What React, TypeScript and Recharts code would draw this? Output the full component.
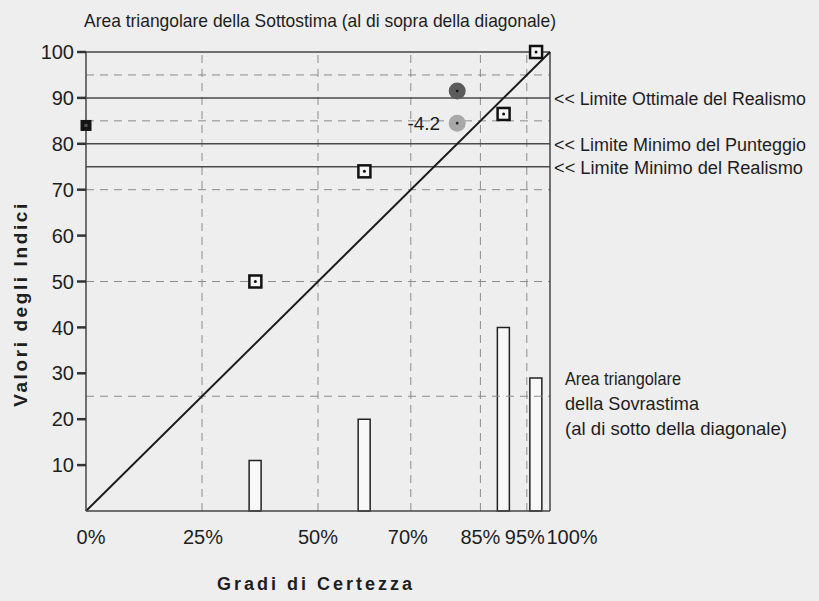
import React from 'react';
import { ComposedChart, XAxis, YAxis, Bar, Scatter, ReferenceLine } from 'recharts';

// degrees of certainty (x) and shares / accuracy per band
const xTicks = [0, 25, 50, 70, 85, 95, 100];
const xTickLabels = ['0%', '25%', '50%', '70%', '85%', '95%', '100%'];
const yTicks = [10, 20, 30, 40, 50, 60, 70, 80, 90, 100];
const bandCenters = [36.5, 60, 90, 97];
const answerShares = [11, 20, 40, 29];
const accuracy = [50, 74, 86.5, 100];

const dashedY = [95, 85, 70, 50, 25];
const dashedX = [25, 50, 70, 85, 95];
const limitValues = [90, 80, 75];
const limitLabels = [
  '<< Limite Ottimale del Realismo',
  '<< Limite Minimo del Punteggio',
  '<< Limite Minimo del Realismo',
];
const limitWidths = [252, 252, 249];

const meanCertainty = [80];
const realismIndex = [91.5];
const scoreIndex = [84.5];
const realismDelta = ['-4.2'];
const scoreOnAxis = [84];

const BG = '#eeeeee';
const FONT = '"Liberation Sans", Arial, sans-serif';
const INK = '#1e1e1e';

const barData = bandCenters.map((x, i) => ({ x, y: answerShares[i] }));
const accuracyData = bandCenters.map((x, i) => ({ x, y: accuracy[i] }));
const realismData = meanCertainty.map((x, i) => ({ x, y: realismIndex[i] }));
const scoreData = meanCertainty.map((x, i) => ({ x, y: scoreIndex[i], label: realismDelta[i] }));
const axisScoreData = scoreOnAxis.map(y => ({ x: 0, y }));

// small per-label nudges, the 100% label sits right of its tick
const xLabelShift: Record<number, number> = { 0: 5, 25: 1, 50: 0, 70: -3, 85: 0, 95: -2, 100: 22 };

const XTick = (p: any) => {
  const v = p.payload.value;
  return (
    <text x={p.x + (xLabelShift[v] || 0)} y={p.y} dy={25} textAnchor="middle" fill={INK} fontSize={20} fontFamily={FONT}>
      {xTickLabels[xTicks.indexOf(v)]}
    </text>
  );
};

const limitLabel = (i: number) => (props: any) => {
  const vb = props.viewBox || { x: 86, y: 0, width: 464, height: 0 };
  return (
    <text
      x={vb.x + vb.width + 4}
      y={vb.y + (vb.height || 0) / 2}
      dy={7}
      fill={INK}
      fontSize={18}
      fontFamily={FONT}
      textLength={limitWidths[i]}
      lengthAdjust="spacingAndGlyphs"
    >
      {limitLabels[i]}
    </text>
  );
};

const OpenSquare = (p: any) => (
  <g>
    <rect x={p.cx - 6} y={p.cy - 6} width={12} height={12} fill="#f4f4f4" stroke="#111" strokeWidth={2.5} />
    <circle cx={p.cx} cy={p.cy} r={1.5} fill="#111" />
  </g>
);

const DarkDot = (p: any) => (
  <g>
    <circle cx={p.cx} cy={p.cy} r={8.5} fill="#5c5c5c" />
    <circle cx={p.cx} cy={p.cy} r={1.3} fill="#111" />
  </g>
);

const LightDot = (p: any) => (
  <g>
    <circle cx={p.cx} cy={p.cy} r={8.5} fill="#a8a8a8" />
    <circle cx={p.cx} cy={p.cy} r={1.3} fill="#222" />
    <text x={p.cx - 17} y={p.cy} dy={7} textAnchor="end" fill={INK} fontSize={19} fontFamily={FONT}>
      {p.payload.label}
    </text>
  </g>
);

const FilledSquare = (p: any) => (
  <g>
    <rect x={p.cx - 5.5} y={p.cy - 5.5} width={11} height={11} fill="#141414" />
    <rect x={p.cx - 1.5} y={p.cy - 1.5} width={3} height={3} fill="#555" />
  </g>
);

export default function App() {
  return (
    <div style={{ position: 'relative', width: 819, height: 601, background: BG, overflow: 'hidden' }}>
      <style>{`body{margin:0;background:${BG}}`}</style>
      <ComposedChart width={819} height={601} data={barData} margin={{ top: 52, right: 269, bottom: 50, left: 0 }}>
        <XAxis
          type="number"
          dataKey="x"
          domain={[0, 100]}
          ticks={xTicks}
          interval={0}
          height={40}
          axisLine={{ stroke: '#444', strokeWidth: 1.5 }}
          tickLine={false}
          tick={XTick}
        />
        <YAxis
          type="number"
          domain={[0, 100]}
          ticks={yTicks}
          interval={0}
          width={86}
          axisLine={{ stroke: '#444', strokeWidth: 1.5 }}
          tickLine={{ stroke: '#333', strokeWidth: 2.5 }}
          tickSize={9}
          tickMargin={3}
          tick={{ fill: INK, fontSize: 20, fontFamily: FONT }}
        />
        {dashedY.map(v => (
          <ReferenceLine key={'hy' + v} y={v} stroke="#8c8c8c" strokeDasharray="8 6" />
        ))}
        {dashedX.map(v => (
          <ReferenceLine key={'vx' + v} x={v} stroke="#8c8c8c" strokeDasharray="8 6" />
        ))}
        <ReferenceLine y={100} stroke="#444" strokeWidth={1.5} />
        <ReferenceLine x={100} stroke="#444" strokeWidth={1.5} />
        {limitValues.map((v, i) => (
          <ReferenceLine key={'lim' + v} y={v} stroke="#4a4a4a" strokeWidth={1.5} label={limitLabel(i)} />
        ))}
        <Bar dataKey="y" barSize={12} fill="#f8f8f8" stroke="#222" strokeWidth={1.5} isAnimationActive={false} />
        <ReferenceLine segment={[{ x: 0, y: 0 }, { x: 100, y: 100 }]} stroke="#1a1a1a" strokeWidth={2} />
        <Scatter data={realismData} dataKey="y" shape={DarkDot} isAnimationActive={false} />
        <Scatter data={scoreData} dataKey="y" shape={LightDot} isAnimationActive={false} />
        <Scatter data={accuracyData} dataKey="y" shape={OpenSquare} isAnimationActive={false} />
        <Scatter data={axisScoreData} dataKey="y" shape={FilledSquare} isAnimationActive={false} />
      </ComposedChart>

      <svg width={819} height={601} style={{ position: 'absolute', left: 0, top: 0, pointerEvents: 'none' }}>
        <text x={84} y={27} fill={INK} fontSize={19} fontFamily={FONT} textLength={472} lengthAdjust="spacingAndGlyphs">
          Area triangolare della Sottostima (al di sopra della diagonale)
        </text>
        <text x={565} y={385} fill={INK} fontSize={19} fontFamily={FONT} textLength={116} lengthAdjust="spacingAndGlyphs">
          Area triangolare
        </text>
        <text x={565} y={410} fill={INK} fontSize={19} fontFamily={FONT} textLength={134} lengthAdjust="spacingAndGlyphs">
          della Sovrastima
        </text>
        <text x={565} y={435} fill={INK} fontSize={19} fontFamily={FONT} textLength={222} lengthAdjust="spacingAndGlyphs">
          (al di sotto della diagonale)
        </text>
        <text x={316} y={590} textAnchor="middle" fill={INK} fontSize={18} fontWeight="bold" letterSpacing={3} fontFamily={FONT}>
          Gradi di Certezza
        </text>
        <text
          transform="translate(27,304) rotate(-90)"
          textAnchor="middle"
          fill={INK}
          fontSize={19}
          fontWeight="bold"
          letterSpacing={2.6}
          fontFamily={FONT}
        >
          Valori degli Indici
        </text>
      </svg>
    </div>
  );
}
